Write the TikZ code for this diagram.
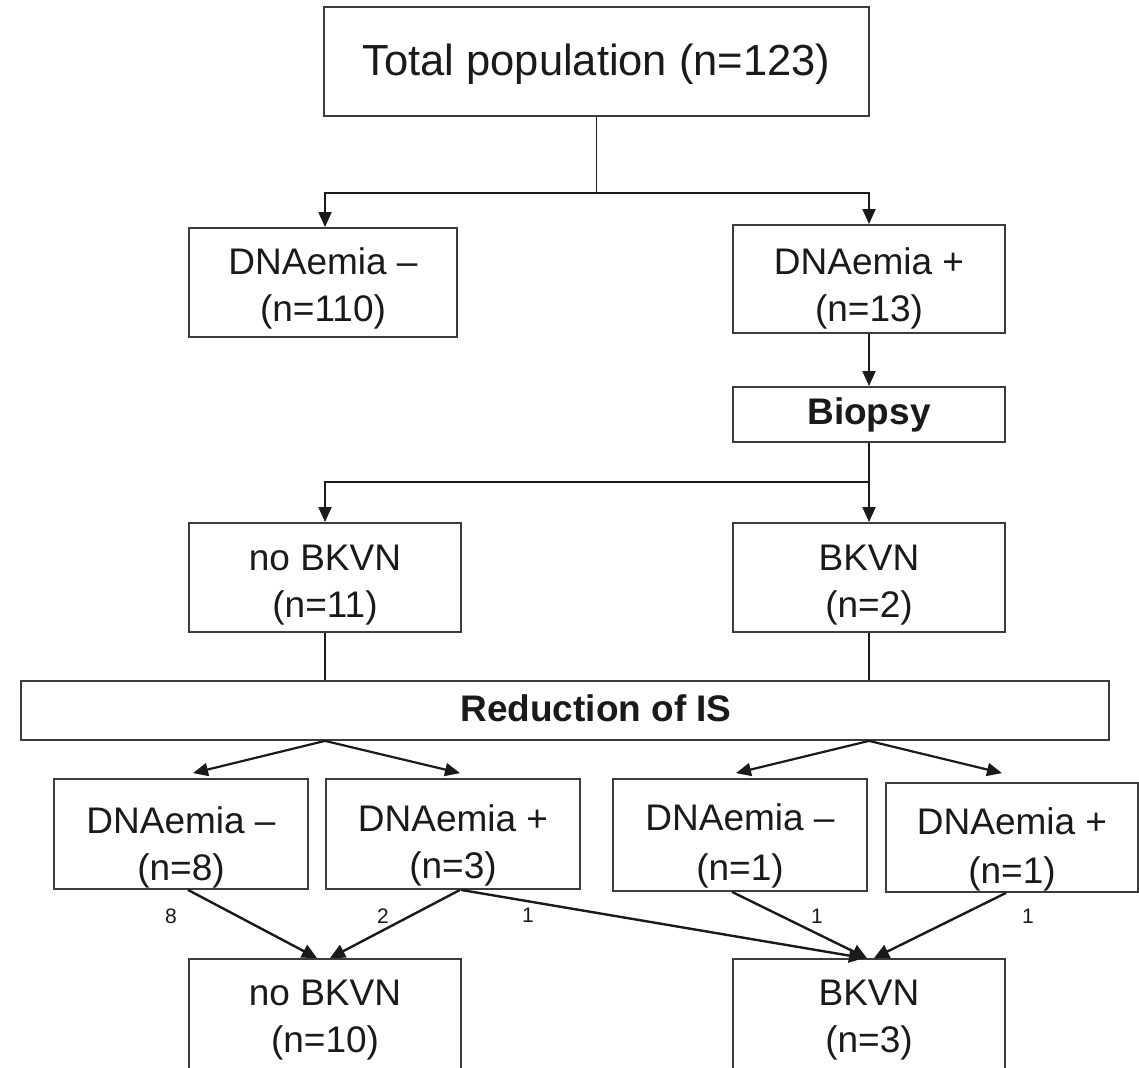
\documentclass[tikz,border=0pt]{standalone}
\usepackage{fontspec}
\setmainfont{Liberation Sans}
\usetikzlibrary{arrows.meta,calc}
\definecolor{ink}{HTML}{1A1A1A}
\definecolor{edgegray}{HTML}{3C3C3C}
\newcommand\hs[1]{\rule{0pt}{#1pt}}
\newcommand\ds[1]{\rule[-#1pt]{0pt}{#1pt}}
\begin{document}
\begin{tikzpicture}[x=1pt,y=-1pt,
 box/.style={draw=edgegray,line width=1.8pt,inner sep=0pt,align=center,text=ink,font=\fontsize{37}{47}\selectfont},
 conn/.style={draw=ink,line width=1.8pt},
 arr/.style={conn,-{Triangle[length=15pt,width=13pt]}},
 sarr/.style={draw=ink,line width=2.2pt,-{Triangle[length=15pt,width=13pt]}},
 darr/.style={draw=ink,line width=2.4pt,-{Triangle[length=15pt,width=14pt]}},
 num/.style={font=\fontsize{21}{25}\selectfont,text=ink,inner sep=0pt}]
\useasboundingbox (0,0) rectangle (1139,1067);
\clip (0,0) rectangle (1139,1067);
\fill[white] (0,0) rectangle (1139,1067);

% nodes
\node[box,minimum width=545pt,minimum height=109pt,font=\fontsize{43.5}{52}\selectfont] (top) at (596.5,61.5) {\hs{36.2}Total population (n=123)};
\node[box,minimum width=268pt,minimum height=109pt] (dneg) at (323,282.5) {\hs{37.8}DNAemia –\\(n=110)};
\node[box,minimum width=272pt,minimum height=108pt] (dpos) at (869,279) {\hs{44.8}DNAemia +\\(n=13)};
\node[box,minimum width=272pt,minimum height=55pt,font=\bfseries\fontsize{37}{47}\selectfont] (biopsy) at (869,414.5) {Biopsy};
\node[box,minimum width=272pt,minimum height=109pt] (nobk) at (325,577.5) {\hs{39.8}no BKVN\\(n=11)};
\node[box,minimum width=272pt,minimum height=109pt] (bk) at (869,577.5) {\hs{39.8}BKVN\\(n=2)};
\node[box,minimum width=1088pt,minimum height=59pt] (red) at (565,710.5) {};
\node[anchor=base,inner sep=0pt,text=ink,font=\bfseries\fontsize{37}{47}\selectfont] (redtxt) at (596,721) {Reduction of IS};
\node[box,minimum width=254pt,minimum height=110pt] (r4a) at (181,834) {\hs{52.8}DNAemia –\\(n=8)};
\node[box,minimum width=254pt,minimum height=110pt] (r4b) at (453,834) {\hs{49.8}DNAemia +\\(n=3)};
\node[box,minimum width=254pt,minimum height=112pt] (r4c) at (740,835) {\hs{47.8}DNAemia –\\[3pt](n=1)};
\node[box,minimum width=252pt,minimum height=109pt] (r4d) at (1012,837.5) {\hs{51}DNAemia +\\[2pt](n=1)};
\node[box,minimum width=272pt,minimum height=141pt] (b1) at (325,1029.5) {\hs{37}no BKVN\\(n=10)\ds{39}};
\node[box,minimum width=272pt,minimum height=141pt] (b2) at (869,1029.5) {\hs{37}BKVN\\(n=3)\ds{39}};

% connectors
\coordinate (j1) at (596.5,193);
\draw[conn] (top.south) -- (j1);
\draw[arr] (j1) -| ([xshift=2pt]dneg.north);
\draw[arr] (j1) -| (dpos.north);
\draw[arr] (dpos.south) -- (biopsy.north);
\coordinate (j2) at (869,482);
\draw[conn] (biopsy.south) -- (j2);
\draw[arr] (j2) -- (bk.north);
\draw[arr] (j2) -| (nobk.north);
\draw[conn] (nobk.south) -- (nobk.south |- red.north);
\draw[conn] (bk.south) -- (bk.south |- red.north);

\coordinate (apL) at (nobk.south |- red.south);
\coordinate (apR) at (bk.south |- red.south);
\draw[sarr] (apL) -- ([xshift=12pt,yshift=5pt]r4a.north);
\draw[sarr] (apL) -- ([xshift=7pt,yshift=5pt]r4b.north);
\draw[sarr] (apR) -- ([xshift=-4pt,yshift=5pt]r4c.north);
\draw[sarr] (apR) -- ([xshift=-10pt,yshift=9pt]r4d.north);

\draw[darr] ([xshift=7pt]r4a.south) -- ([xshift=-8pt]b1.north);
\draw[darr] ([xshift=7pt]r4b.south) -- ([xshift=5pt]b1.north);
\draw[darr] ([xshift=8pt]r4b.south) -- ([xshift=-5pt]b2.north);
\draw[darr] ([xshift=-8pt]r4c.south) -- ([xshift=-2pt]b2.north);
\draw[darr] ([xshift=-6pt]r4d.south) -- ([xshift=5pt]b2.north);

% flow counts
\node[num] (l8) at (171,916) {8};
\node[num] (l2) at (383,916) {2};
\node[num] (l1a) at (528,915) {1};
\node[num] (l1b) at (817,916) {1};
\node[num] (l1c) at (1028,916) {1};
\end{tikzpicture}
\end{document}
